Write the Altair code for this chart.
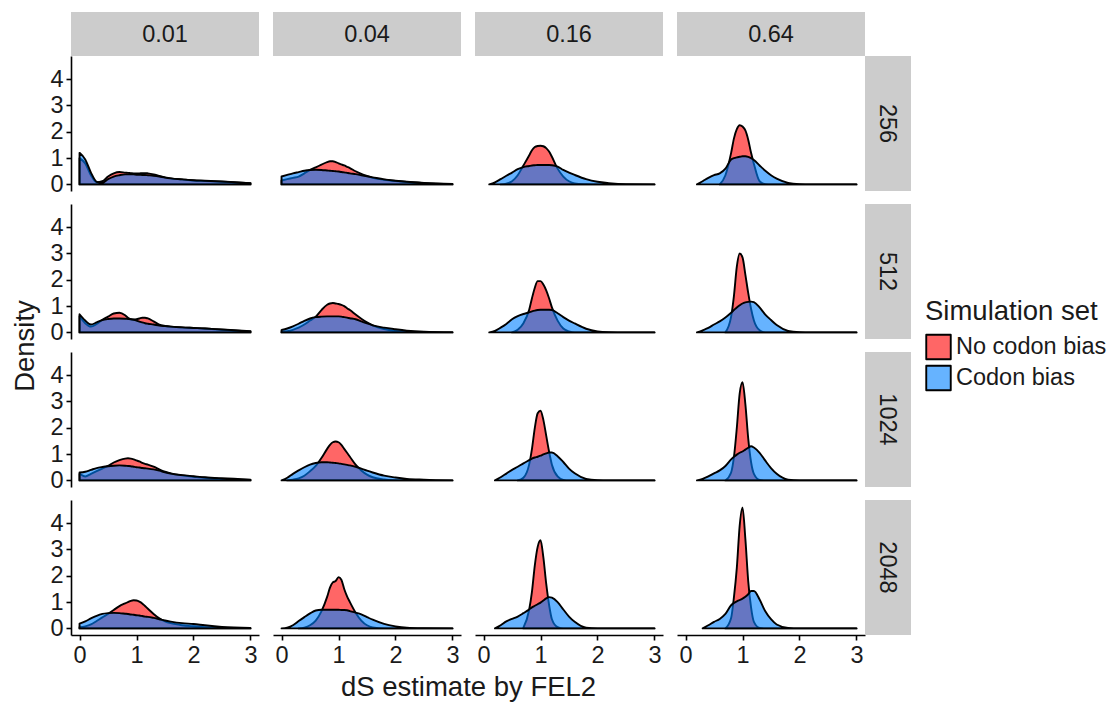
import altair as alt
import pandas as pd

N = None
X = [0, 0.1, 0.2, 0.3, 0.4, 0.5, 0.6, 0.7, 0.8, 0.85, 0.9, 0.95, 1.0, 1.05, 1.1, 1.15, 1.2,
     1.3, 1.4, 1.5, 1.6, 1.8, 2.0, 2.2, 2.5, 3.0]
ROWS = ["256", "512", "1024", "2048"]
COLS = ["0.01", "0.04", "0.16", "0.64"]
SETS = ["No codon bias", "Codon bias"]
COLORS = ["#FF0000", "#0080FF"]
X_TICKS = [0, 1, 2, 3]
Y_TICKS = [0, 1, 2, 3, 4]

# ---- row 256 ----
nb_256_001 = [1.0, 0.8, 0.35, 0.08, 0.12, 0.3, 0.42, 0.47, 0.45, 0.44, 0.43, 0.42, 0.42, 0.42, 0.43, 0.43, 0.42, 0.38, 0.32, 0.27, 0.23, 0.19, 0.15, 0.13, 0.1, 0.05]
cb_256_001 = [1.2, 0.95, 0.45, 0.1, 0.06, 0.2, 0.3, 0.35, 0.38, 0.38, 0.38, 0.38, 0.37, 0.37, 0.36, 0.36, 0.35, 0.33, 0.3, 0.26, 0.23, 0.19, 0.16, 0.14, 0.11, 0.05]
nb_256_004 = [0.15, 0.2, 0.25, 0.3, 0.42, 0.55, 0.65, 0.75, 0.85, 0.88, 0.88, 0.85, 0.8, 0.76, 0.72, 0.67, 0.62, 0.5, 0.4, 0.32, 0.25, 0.18, 0.13, 0.09, 0.05, 0.01]
cb_256_004 = [0.3, 0.36, 0.42, 0.47, 0.52, 0.55, 0.56, 0.55, 0.53, 0.52, 0.51, 0.5, 0.49, 0.47, 0.46, 0.44, 0.42, 0.39, 0.35, 0.31, 0.27, 0.19, 0.14, 0.1, 0.06, 0.02]
nb_256_016 = [N, N, N, 0, 0.03, 0.12, 0.35, 0.72, 1.1, 1.3, 1.42, 1.46, 1.47, 1.45, 1.38, 1.25, 1.05, 0.6, 0.3, 0.12, 0.04, 0.01, 0, 0, 0, 0]
cb_256_016 = [N, 0, 0.08, 0.2, 0.33, 0.45, 0.58, 0.66, 0.7, 0.72, 0.73, 0.74, 0.74, 0.74, 0.74, 0.74, 0.73, 0.68, 0.55, 0.45, 0.36, 0.2, 0.1, 0.05, 0.01, 0]
nb_256_064 = [N, N, N, N, N, N, 0, 0.35, 1.2, 1.75, 2.1, 2.25, 2.2, 2.05, 1.7, 1.2, 0.78, 0.12, 0.01, 0, 0, 0, 0, 0, 0, 0]
cb_256_064 = [N, N, 0, 0.12, 0.25, 0.35, 0.42, 0.6, 0.95, 1.0, 1.03, 1.05, 1.07, 1.07, 1.05, 1.0, 0.93, 0.72, 0.52, 0.35, 0.22, 0.06, 0.01, 0, 0, 0]

# ---- row 512 ----
nb_512_001 = [0.62, 0.35, 0.22, 0.32, 0.48, 0.6, 0.72, 0.75, 0.65, 0.56, 0.5, 0.49, 0.5, 0.53, 0.56, 0.56, 0.53, 0.42, 0.3, 0.25, 0.22, 0.19, 0.17, 0.15, 0.1, 0.04]
cb_512_001 = [0.69, 0.45, 0.3, 0.38, 0.47, 0.51, 0.53, 0.53, 0.52, 0.51, 0.5, 0.48, 0.45, 0.41, 0.38, 0.35, 0.33, 0.3, 0.26, 0.24, 0.22, 0.19, 0.17, 0.15, 0.11, 0.05]
nb_512_004 = [0.02, 0.05, 0.1, 0.18, 0.3, 0.45, 0.6, 0.85, 1.05, 1.1, 1.12, 1.1, 1.08, 1.05, 1.0, 0.92, 0.85, 0.68, 0.52, 0.38, 0.27, 0.13, 0.06, 0.03, 0.01, 0]
cb_512_004 = [0.09, 0.15, 0.23, 0.33, 0.44, 0.53, 0.58, 0.6, 0.61, 0.61, 0.61, 0.61, 0.61, 0.6, 0.58, 0.56, 0.54, 0.5, 0.42, 0.34, 0.27, 0.18, 0.12, 0.07, 0.03, 0.01]
nb_512_016 = [N, N, N, N, N, 0, 0.1, 0.35, 0.85, 1.3, 1.7, 1.95, 1.95, 1.82, 1.6, 1.3, 0.95, 0.45, 0.15, 0.04, 0, 0, 0, 0, 0, 0]
cb_512_016 = [N, 0, 0.06, 0.18, 0.32, 0.5, 0.62, 0.7, 0.76, 0.8, 0.83, 0.85, 0.86, 0.86, 0.86, 0.86, 0.85, 0.73, 0.58, 0.45, 0.34, 0.14, 0.04, 0.01, 0, 0]
nb_512_064 = [N, N, N, N, N, N, N, 0, 0.6, 1.4, 2.5, 3.0, 2.85, 2.2, 1.5, 0.9, 0.45, 0.08, 0, 0, 0, 0, 0, 0, 0, 0]
cb_512_064 = [N, N, 0, 0.08, 0.17, 0.3, 0.42, 0.57, 0.75, 0.85, 0.95, 1.03, 1.1, 1.14, 1.16, 1.17, 1.15, 0.95, 0.68, 0.47, 0.28, 0.06, 0.01, 0, 0, 0]

# ---- row 1024 ----
nb_1024_001 = [0.25, 0.15, 0.25, 0.35, 0.45, 0.55, 0.68, 0.77, 0.83, 0.84, 0.83, 0.8, 0.76, 0.72, 0.67, 0.63, 0.6, 0.52, 0.42, 0.33, 0.27, 0.19, 0.14, 0.1, 0.06, 0.02]
cb_1024_001 = [0.3, 0.33, 0.4, 0.47, 0.51, 0.54, 0.56, 0.57, 0.56, 0.55, 0.54, 0.52, 0.5, 0.49, 0.47, 0.46, 0.45, 0.42, 0.37, 0.31, 0.26, 0.2, 0.16, 0.12, 0.08, 0.03]
nb_1024_004 = [N, 0, 0.03, 0.08, 0.18, 0.35, 0.55, 0.85, 1.2, 1.35, 1.45, 1.48, 1.45, 1.35, 1.2, 1.05, 0.9, 0.6, 0.38, 0.22, 0.12, 0.04, 0.01, 0, 0, 0]
cb_1024_004 = [0, 0.1, 0.25, 0.38, 0.5, 0.6, 0.66, 0.69, 0.69, 0.68, 0.67, 0.66, 0.65, 0.63, 0.61, 0.59, 0.57, 0.52, 0.45, 0.37, 0.3, 0.18, 0.11, 0.06, 0.03, 0]
nb_1024_016 = [N, N, N, N, N, N, 0, 0.1, 0.6, 1.2, 2.0, 2.55, 2.65, 2.3, 1.7, 1.1, 0.6, 0.15, 0.02, 0, 0, 0, 0, 0, 0, 0]
cb_1024_016 = [N, N, 0, 0.12, 0.26, 0.4, 0.52, 0.65, 0.77, 0.83, 0.87, 0.9, 0.94, 0.99, 1.03, 1.06, 1.06, 0.92, 0.7, 0.45, 0.27, 0.06, 0.01, 0, 0, 0]
nb_1024_064 = [N, N, N, N, N, N, N, 0, 0.3, 0.9, 2.0, 3.3, 3.73, 2.9, 1.6, 0.7, 0.25, 0.02, 0, 0, 0, 0, 0, 0, 0, 0]
cb_1024_064 = [N, N, 0, 0.06, 0.15, 0.27, 0.38, 0.55, 0.8, 0.9, 0.98, 1.05, 1.1, 1.17, 1.24, 1.3, 1.25, 1.05, 0.75, 0.47, 0.25, 0.03, 0, 0, 0, 0]

# ---- row 2048 ----
nb_2048_001 = [0.05, 0.08, 0.15, 0.28, 0.42, 0.55, 0.7, 0.85, 0.95, 1.0, 1.05, 1.07, 1.06, 1.02, 0.95, 0.85, 0.75, 0.55, 0.38, 0.27, 0.2, 0.12, 0.08, 0.05, 0.02, 0]
cb_2048_001 = [0.18, 0.27, 0.38, 0.48, 0.55, 0.58, 0.59, 0.58, 0.56, 0.55, 0.53, 0.52, 0.5, 0.49, 0.47, 0.45, 0.44, 0.4, 0.35, 0.3, 0.26, 0.2, 0.17, 0.12, 0.06, 0.02]
nb_2048_004 = [N, N, N, 0, 0.03, 0.12, 0.3, 0.65, 1.2, 1.55, 1.75, 1.8, 1.95, 1.85, 1.5, 1.22, 1.0, 0.6, 0.3, 0.12, 0.04, 0, 0, 0, 0, 0]
cb_2048_004 = [0, 0.03, 0.12, 0.28, 0.43, 0.57, 0.68, 0.71, 0.71, 0.71, 0.71, 0.71, 0.71, 0.7, 0.7, 0.69, 0.66, 0.6, 0.53, 0.43, 0.33, 0.17, 0.08, 0.03, 0.01, 0]
nb_2048_016 = [N, N, N, N, N, N, N, 0.03, 0.7, 1.4, 2.4, 3.1, 3.35, 2.7, 1.7, 0.9, 0.35, 0.05, 0, 0, 0, 0, 0, 0, 0, 0]
cb_2048_016 = [N, N, 0, 0.12, 0.27, 0.36, 0.45, 0.58, 0.72, 0.8, 0.86, 0.92, 0.98, 1.06, 1.14, 1.19, 1.17, 1.0, 0.72, 0.45, 0.25, 0.03, 0, 0, 0, 0]
nb_2048_064 = [N, N, N, N, N, N, N, 0, 0.4, 1.2, 2.3, 3.9, 4.6, 3.4, 1.8, 0.8, 0.25, 0.02, 0, 0, 0, 0, 0, 0, 0, 0]
cb_2048_064 = [N, N, N, 0, 0.12, 0.25, 0.36, 0.55, 0.88, 0.97, 1.03, 1.08, 1.13, 1.2, 1.3, 1.42, 1.42, 1.1, 0.65, 0.35, 0.15, 0.02, 0, 0, 0, 0]

CURVES = {
    ("256", "0.01"): (nb_256_001, cb_256_001), ("256", "0.04"): (nb_256_004, cb_256_004),
    ("256", "0.16"): (nb_256_016, cb_256_016), ("256", "0.64"): (nb_256_064, cb_256_064),
    ("512", "0.01"): (nb_512_001, cb_512_001), ("512", "0.04"): (nb_512_004, cb_512_004),
    ("512", "0.16"): (nb_512_016, cb_512_016), ("512", "0.64"): (nb_512_064, cb_512_064),
    ("1024", "0.01"): (nb_1024_001, cb_1024_001), ("1024", "0.04"): (nb_1024_004, cb_1024_004),
    ("1024", "0.16"): (nb_1024_016, cb_1024_016), ("1024", "0.64"): (nb_1024_064, cb_1024_064),
    ("2048", "0.01"): (nb_2048_001, cb_2048_001), ("2048", "0.04"): (nb_2048_004, cb_2048_004),
    ("2048", "0.16"): (nb_2048_016, cb_2048_016), ("2048", "0.64"): (nb_2048_064, cb_2048_064),
}

W, H = 188, 135
SP_COL, SP_ROW = 14, 13
STRIP = 44
FONT = "Liberation Sans"
BIG = 27.5
SMALL = 23.5
STRIP_FILL = "#CCCCCC"
TXT = "#1A1A1A"


def panel(r, c, ri, ci):
    recs = []
    for s, ys in zip(SETS, CURVES[(r, c)]):
        for x, y in zip(X, ys):
            if y is not None:
                recs.append({"set": s, "x": x, "density": y})
    d = pd.DataFrame(recs)

    if ri == len(ROWS) - 1:
        if ci == 0:
            xaxis = alt.Axis(values=X_TICKS, format="d", title="dS estimate by FEL2",
                             titleX=(4 * W + 3 * SP_COL) / 2, titleY=52,
                             titleAlign="center", titleBaseline="middle")
        else:
            xaxis = alt.Axis(values=X_TICKS, format="d", title=None)
    else:
        xaxis = None
    if ci == 0:
        if ri == 1:
            yaxis = alt.Axis(values=Y_TICKS, format="d", title="Density",
                             titleX=-46, titleY=(4 * H + 3 * SP_ROW) / 2 - (H + SP_ROW),
                             titleAlign="center", titleBaseline="middle", titleAngle=270)
        else:
            yaxis = alt.Axis(values=Y_TICKS, format="d", title=None)
    else:
        yaxis = None

    xenc = alt.X("x:Q", scale=alt.Scale(domain=[-0.15, 3.15], nice=False, zero=False), axis=xaxis)
    yenc = alt.Y("density:Q", scale=alt.Scale(domain=[-0.25, 4.88], nice=False), axis=yaxis)
    fill = alt.Fill("set:N", scale=alt.Scale(domain=SETS, range=COLORS),
                    legend=alt.Legend(title="Simulation set", orient="none",
                                      legendX=854, legendY=242))
    layers = []
    for s in SETS:
        layers.append(
            alt.Chart(d).transform_filter(alt.datum.set == s).mark_area().encode(
                x=xenc, y=yenc, y2=alt.datum(0), fill=fill)
        )
    if ri == 0:
        sd = pd.DataFrame({"label": [c]})
        layers.append(alt.Chart(sd).mark_rect(fill=STRIP_FILL, stroke=None).encode(
            x=alt.value(0), x2=alt.value(W), y=alt.value(-STRIP), y2=alt.value(0)))
        layers.append(alt.Chart(sd).mark_text(
            font=FONT, fontSize=SMALL, color=TXT, baseline="middle").encode(
            x=alt.value(W / 2), y=alt.value(-STRIP / 2 + 1), text="label:N"))
    if ci == len(COLS) - 1:
        sd = pd.DataFrame({"label": [r]})
        layers.append(alt.Chart(sd).mark_rect(fill=STRIP_FILL, stroke=None).encode(
            x=alt.value(W), x2=alt.value(W + 46), y=alt.value(0), y2=alt.value(H)))
        layers.append(alt.Chart(sd).mark_text(
            font=FONT, fontSize=SMALL, color=TXT, angle=90, baseline="middle").encode(
            x=alt.value(W + 22), y=alt.value(H / 2), text="label:N"))
    return alt.layer(*layers).properties(width=W, height=H)


panels = [panel(r, c, ri, ci) for ri, r in enumerate(ROWS) for ci, c in enumerate(COLS)]

chart = alt.concat(
    *panels, columns=4, spacing={"row": SP_ROW, "column": SP_COL}, bounds="flush"
).properties(
    padding={"left": 11, "top": 12, "right": 5, "bottom": 5}
).configure_view(stroke=None).configure_area(
    fillOpacity=0.6, stroke="black", strokeWidth=1.9, strokeJoin="round",
    interpolate="monotone",
).configure_axis(
    grid=False, domainColor="black", domainWidth=1.6, tickColor="black", tickWidth=1.6,
    tickSize=5, labelFont=FONT, labelFontSize=SMALL, labelColor=TXT, labelPadding=3,
    titleFont=FONT, titleFontSize=BIG, titleFontWeight="normal", titleColor=TXT,
).configure_legend(
    titleFont=FONT, titleFontSize=BIG, titleFontWeight="normal", titleColor=TXT,
    labelFont=FONT, labelFontSize=SMALL, labelColor=TXT, symbolType="square",
    symbolSize=600, symbolStrokeColor="black", symbolStrokeWidth=1.8, rowPadding=4,
    titlePadding=8, labelOffset=4,
)

chart.save("out.html", embed_options={"renderer": "svg", "actions": False})
